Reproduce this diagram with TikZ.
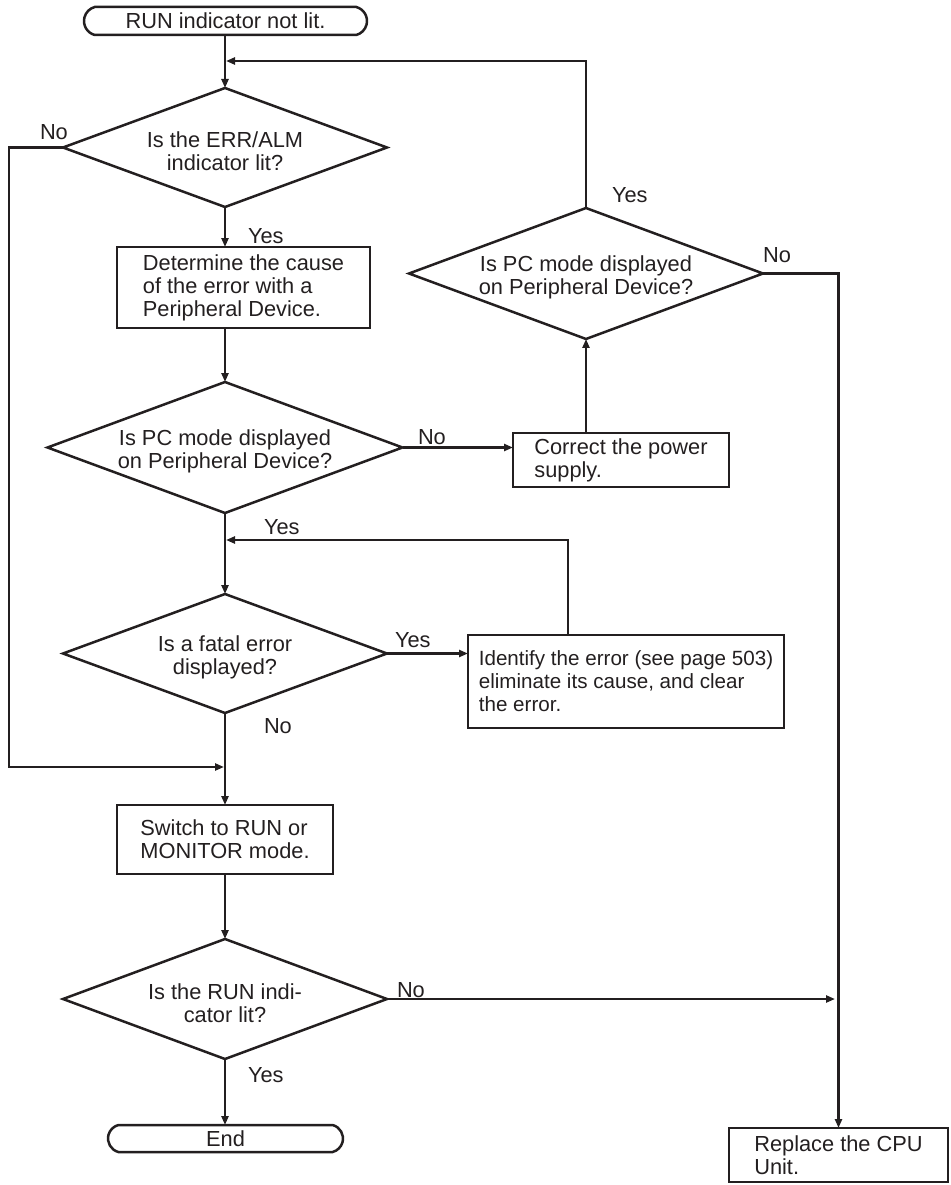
\documentclass[tikz,border=0pt]{standalone}
\usepackage{fontspec}
\setmainfont{Liberation Sans}
\usetikzlibrary{shapes.geometric,shapes.misc,arrows.meta}
\definecolor{ink}{RGB}{35,31,32}
\newcommand\dgtop{\rule{0pt}{24pt}}
\begin{document}
\begin{tikzpicture}[x=1pt,y=-1pt,
  every node/.style={font=\fontsize{21.8}{23}\selectfont, text=ink, outer sep=0pt},
  shp/.style={draw=ink, line width=2.5pt},
  dec/.style={shp, diamond, aspect=2.7, inner sep=0pt, align=center},
  procbox/.style={shp, rectangle, inner sep=0pt, align=left},
  term/.style={shp, rounded rectangle, rounded rectangle arc length=150, inner sep=0pt},
  conn/.style={draw=ink, line width=2.4pt},
  arr/.style={conn, -{Triangle[length=9pt,width=7pt]}},
  lbl/.style={anchor=base west, inner sep=0pt}]
\useasboundingbox (0,0) rectangle (950,1185);

% nodes
\node[term, minimum width=283pt, minimum height=28pt] (start) at (225.5,21) {RUN indicator not lit.};
\node[dec, minimum width=324pt, minimum height=119pt] (d1) at (225,147.5) {\dgtop Is the ERR/ALM\\indicator lit?};
\node[procbox, minimum width=253pt, minimum height=81pt] (b1) at (243.5,287.5) {Determine the cause\\of the error with a\\Peripheral Device.};
\node[dec, minimum width=355pt, minimum height=131pt] (d2) at (225,447.5) {\dgtop Is PC mode displayed\\on Peripheral Device?};
\node[dec, minimum width=354pt, minimum height=129pt] (d3) at (586,273.5) {\dgtop Is PC mode displayed\\on Peripheral Device?};
\node[procbox, minimum width=216pt, minimum height=54pt] (b2) at (621,460) {Correct the power\\supply.};
\node[dec, minimum width=324pt, minimum height=119pt] (d4) at (225,653.5) {\dgtop Is a fatal error\\displayed?};
\node[procbox, minimum width=316pt, minimum height=93pt, font=\fontsize{20.6}{23}\selectfont] (b3) at (626,681.5) {Identify the error (see page 503)\\eliminate its cause, and clear\\the error.};
\node[procbox, minimum width=216pt, minimum height=69pt] (b4) at (225,839.5) {Switch to RUN or\\MONITOR mode.};
\node[dec, minimum width=324pt, minimum height=120pt] (d5) at (225,999) {\dgtop Is the RUN indi-\\cator lit?};
\node[term, minimum width=235pt, minimum height=27pt] (end) at (225.5,1138.5) {End};
\node[procbox, minimum width=219pt, minimum height=54pt] (b5) at (838.5,1155) {Replace the CPU\\Unit.};

% junction coordinates
\coordinate (j1) at (226,61);
\coordinate (j2) at (226,540);
\coordinate (j3) at (224,767);
\coordinate (c1) at (9,767);
\coordinate (j4) at (835,999);

% connectors
\draw[arr] (start.south -| d1.north) -- (d1.north);
\draw[arr] (d3.north) |- (j1);
\draw[arr] (d1.west) -| (c1) -- (j3);
\draw[arr] (d1.south) -- (d1.south |- b1.north);
\draw[arr] (d1.south |- b1.south) -- (d2.north);
\draw[arr] (d2.east) -- (d2.east -| b2.west);
\draw[arr] (d3.south |- b2.north) -- (d3.south);
\draw[arr] (d2.south) -- (d4.north);
\draw[arr] ([xshift=-58pt]b3.north) |- (j2);
\draw[arr] (d4.east) -- (d4.east -| b3.west);
\draw[arr] (d4.south) -- (b4.north);
\draw[arr] (b4.south) -- (d5.north);
\draw[arr] (d5.east) -- (j4);
\draw[arr] (d3.east) -| (b5.north);
\draw[arr] (d5.south) -- (end.north -| d5.south);

% labels
\node[lbl] (lno1) at (40,140) {No};
\node[lbl] (lyes1) at (248,243) {Yes};
\node[lbl] (lno2) at (418,444) {No};
\node[lbl] (lyes2) at (264,534) {Yes};
\node[lbl] (lyes3) at (612,203) {Yes};
\node[lbl] (lno3) at (763,262) {No};
\node[lbl] (lyes4) at (395,647) {Yes};
\node[lbl] (lno4) at (264,733) {No};
\node[lbl] (lno5) at (397,997) {No};
\node[lbl] (lyes5) at (248,1082) {Yes};
\end{tikzpicture}
\end{document}
